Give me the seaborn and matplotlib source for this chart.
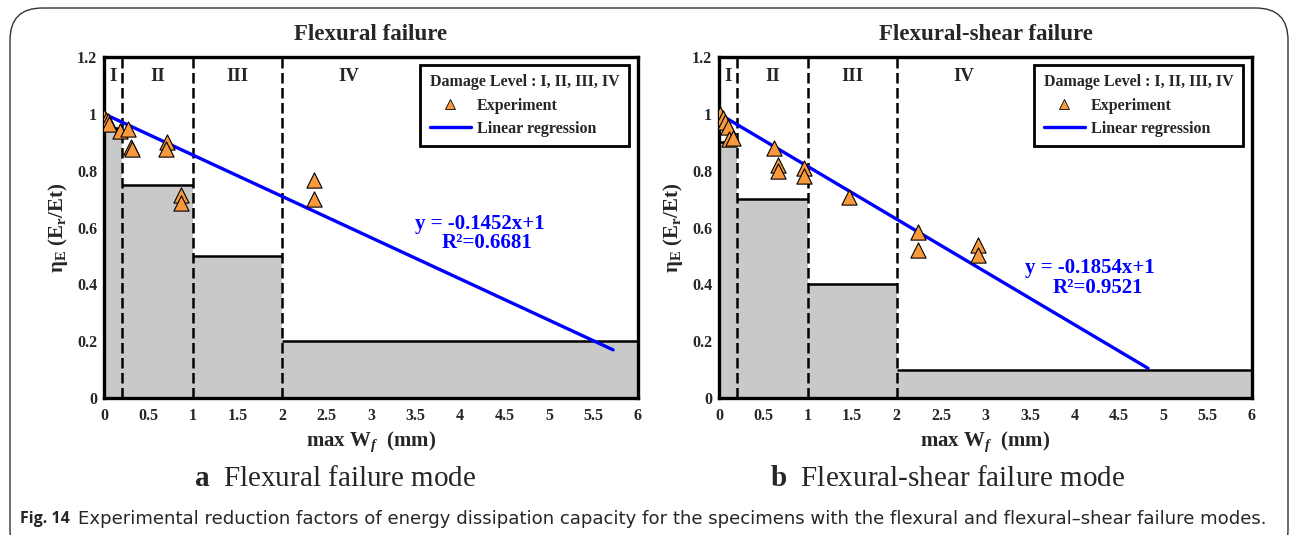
import numpy as np
import pandas as pd
import matplotlib
matplotlib.use("Agg")
import matplotlib.pyplot as plt
from matplotlib.patches import FancyBboxPatch
from matplotlib.lines import Line2D
import seaborn as sns

# ---- data -------------------------------------------------------------
# Flexural failure specimens
flex_w = [0.00, 0.02, 0.04, 0.06, 0.18, 0.27, 0.30, 0.31, 0.71, 0.70, 0.86, 0.87, 2.36, 2.36]
flex_eta = [0.99, 0.98, 0.975, 0.965, 0.94, 0.945, 0.885, 0.875, 0.90, 0.875, 0.715, 0.685, 0.768, 0.70]
flex_slope = -0.1452
flex_r2 = 0.6681
flex_fit_range = [0.05, 5.72]
flex_levels = [0.95, 0.75, 0.50, 0.20]

# Flexural-shear failure specimens
fs_w = [0.01, 0.04, 0.07, 0.10, 0.11, 0.16, 0.62, 0.66, 0.66, 0.96, 0.96, 1.46, 2.24, 2.24, 2.92, 2.92]
fs_eta = [1.00, 0.985, 0.97, 0.955, 0.91, 0.915, 0.879, 0.82, 0.80, 0.81, 0.78, 0.709, 0.585, 0.52, 0.539, 0.503]
fs_slope = -0.1854
fs_r2 = 0.9521
fs_fit_range = [0.05, 4.83]
fs_levels = [0.90, 0.70, 0.40, 0.10]

# Damage level boundaries (mm) and labels
level_edges = [0.0, 0.2, 1.0, 2.0, 6.0]
level_names = ["I", "II", "III", "IV"]
level_label_x = [0.10, 0.60, 1.50, 2.75]

x_ticks = [0, 0.5, 1, 1.5, 2, 2.5, 3, 3.5, 4, 4.5, 5, 5.5, 6]
y_ticks = [0, 0.2, 0.4, 0.6, 0.8, 1.0, 1.2]
y_tick_labels = ["0", "0.2", "0.4", "0.6", "0.8", "1", "1.2"]

# ---- style ------------------------------------------------------------
sns.set_theme(style="white")
plt.rcParams["font.family"] = ["Liberation Serif", "DejaVu Serif"]
plt.rcParams["font.weight"] = "bold"
plt.rcParams["mathtext.fontset"] = "custom"
plt.rcParams["mathtext.rm"] = "Liberation Serif:bold"
plt.rcParams["mathtext.bf"] = "Liberation Serif:bold"
plt.rcParams["mathtext.it"] = "Liberation Serif:italic:bold"

ORANGE = "#f79a3e"
BLUE = "#0000ff"
GREY = "#c9c9c9"

fig = plt.figure(figsize=(12.92, 5.35), dpi=100)

# rounded outer frame
frame = FancyBboxPatch((10 / 1292, -0.05), 1278 / 1292, (535 - 8) / 535 + 0.05,
                       boxstyle="round,pad=0,rounding_size=0.025",
                       transform=fig.transFigure, facecolor="none",
                       edgecolor="#333333", linewidth=1.0, mutation_aspect=2.4)
fig.patches.append(frame)


def draw_panel(ax, w, eta, slope, r2, fit_range, levels, title, eq_pos):
    # damage level capacity blocks
    lefts = level_edges[:-1]
    widths = np.diff(level_edges)
    ax.bar(lefts, levels, width=widths, align="edge", color=GREY,
           edgecolor="none", zorder=1)
    ax.hlines(levels, lefts, level_edges[1:], colors="black", linewidth=1.8, zorder=2)
    ax.vlines(level_edges[1:-1], 0, 1.2, colors="black", linewidth=1.8,
              linestyles=(0, (4.2, 1.8)), zorder=2)
    for name, lx in zip(level_names, level_label_x):
        ax.text(lx, 1.13, name, ha="center", va="center", fontsize=13.5,
                fontweight="bold")

    # regression line
    fit_x = np.array(fit_range)
    fit = pd.DataFrame({"w": fit_x, "eta": slope * fit_x + 1})
    sns.lineplot(data=fit, x="w", y="eta", ax=ax, color=BLUE, linewidth=2.4,
                 zorder=3, label="Linear regression")

    # experimental points
    pts = pd.DataFrame({"w": w, "eta": eta})
    sns.scatterplot(data=pts, x="w", y="eta", ax=ax, marker="^", s=120,
                    color=ORANGE, edgecolor="black", linewidth=0.8, zorder=4,
                    label="Experiment")

    ax.text(eq_pos[0], eq_pos[1], f"y = {slope:.4f}x+1", color=BLUE,
            fontsize=15, fontweight="bold", ha="center", va="center")
    ax.text(eq_pos[0] + 0.08, eq_pos[1] - 0.068, f"R²={r2:.4f}", color=BLUE,
            fontsize=15, fontweight="bold", ha="center", va="center")

    ax.set_xlim(0, 6)
    ax.set_ylim(0, 1.2)
    ax.set_xticks(x_ticks)
    ax.set_xticklabels([f"{t:g}" for t in x_ticks])
    ax.set_yticks(y_ticks)
    ax.set_yticklabels(y_tick_labels)
    ax.tick_params(axis="x", length=0, labelsize=11.5, pad=7)
    ax.tick_params(axis="y", length=0, labelsize=11.5, pad=5)
    for lab in ax.get_xticklabels() + ax.get_yticklabels():
        lab.set_fontweight("bold")
    for sp in ax.spines.values():
        sp.set_visible(True)
        sp.set_color("black")
        sp.set_linewidth(2.4)
    ax.set_title(title, fontsize=16.5, fontweight="bold", pad=12)
    ax.set_xlabel(r"max W$_{f}$  (mm)", fontsize=15, fontweight="bold", labelpad=4)
    ax.set_ylabel(r"η$_{\mathrm{E}}$ (E$_{\mathrm{r}}$/Et)", fontsize=15,
                  fontweight="bold", labelpad=5)

    handles = [
        Line2D([], [], marker="^", linestyle="none", markersize=7.5,
               markerfacecolor=ORANGE, markeredgecolor="black", markeredgewidth=0.6),
        Line2D([], [], color=BLUE, linewidth=2.4),
    ]
    leg = ax.legend(handles, ["Experiment", "Linear regression"],
                    title="Damage Level : I, II, III, IV", loc="upper right",
                    bbox_to_anchor=(0.983, 0.977), borderaxespad=0,
                    fancybox=False, framealpha=1,
                    edgecolor="black", fontsize=11.5, title_fontsize=11.5,
                    handlelength=2.6, handletextpad=0.35, labelspacing=0.45,
                    borderpad=0.6, alignment="left")
    leg.get_frame().set_linewidth(2.0)
    for t in leg.get_texts():
        t.set_fontweight("bold")
    leg.get_title().set_fontweight("bold")


ax_a = fig.add_axes([104 / 1292, 137 / 535, 534 / 1292, 341 / 535])
ax_b = fig.add_axes([719 / 1292, 137 / 535, 533 / 1292, 341 / 535])

draw_panel(ax_a, flex_w, flex_eta, flex_slope, flex_r2, flex_fit_range,
           flex_levels, "Flexural failure", (4.22, 0.612))
draw_panel(ax_b, fs_w, fs_eta, fs_slope, fs_r2, fs_fit_range,
           fs_levels, "Flexural-shear failure", (4.18, 0.456))

# sub-figure captions
for xc, letter, text in [(335 / 1292, "a", "Flexural failure mode"),
                         (948 / 1292, "b", "Flexural-shear failure mode")]:
    fig.text(xc, 1 - 479 / 535, r"$\mathbf{" + letter + r"}$" + "  " + text,
             ha="center", va="center", fontsize=21, fontweight="normal",
             family="Liberation Serif")

# figure caption
fig.text(20 / 1292, 1 - 519 / 535, "Fig. 14", ha="left", va="center",
         fontsize=11.5, fontweight="bold", family="Open Sans")
fig.text(78 / 1292, 1 - 519 / 535,
         "Experimental reduction factors of energy dissipation capacity for the "
         "specimens with the flexural and flexural–shear failure modes.",
         ha="left", va="center", fontsize=13.1, fontweight="normal",
         family="DejaVu Sans")

fig.savefig("out.png", dpi=100)
